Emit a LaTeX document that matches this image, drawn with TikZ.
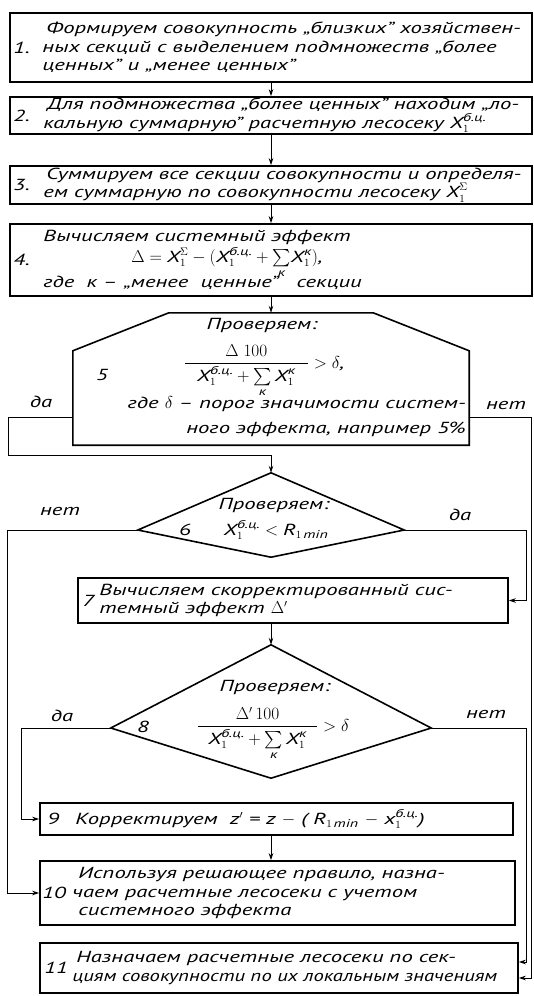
\documentclass[tikz,border=0pt]{standalone}
\usepackage{amsmath}
\usepackage{fontspec}
\setmainfont{PT Sans}[FakeStretch=1.42]
\usetikzlibrary{arrows.meta,positioning}

\newcommand{\Xbc}{\text{X}_1^{\text{б.ц.}}}
\newcommand{\Xk}{\text{X}_1^{\text{к}}}
\newcommand{\XS}{\text{X}_1^{\Sigma}}
\newcommand{\Sk}{\sum\limits_{\text{к}}}

\begin{document}
\begin{tikzpicture}[
  x=1pt,y=-1pt,
  stepbox/.style={draw,line width=1.6pt,inner sep=0pt},
  outline/.style={line width=1.6pt,line join=miter},
  txt/.style={font=\fontsize{16}{18.5}\selectfont\itshape,inner sep=0pt,align=left},
  ans/.style={font=\fontsize{16}{18}\selectfont\itshape,inner sep=0pt},
  flow/.style={line width=0.9pt,-{Stealth[length=7pt,width=4.5pt]}}
]
  \useasboundingbox (0,0) rectangle (534,996);

  % steps 1-4 and the check 5
  \node[stepbox,minimum width=522pt,minimum height=69pt] (b1) at (271,47.5) {};
  \node[stepbox,minimum width=522pt,minimum height=37pt] (b2) at (271,115.5) {};
  \node[stepbox,minimum width=522pt,minimum height=38pt] (b3) at (271,185) {};
  \node[stepbox,minimum width=522pt,minimum height=72pt] (b4) at (271,260) {};
  \node[inner sep=0pt,minimum width=396pt,minimum height=132pt] (c5) at (271,379) {};
  \draw[outline] (c5.south west) -- ([yshift=-38pt]c5.north west) -- ([xshift=96pt]c5.north west)
    -- ([xshift=-96pt]c5.north east) -- ([yshift=-38pt]c5.north east) -- (c5.south east) -- cycle;

  \node[txt,right=4pt of b1.west] (n1) {1.};
  \node[txt,right=33pt of b1.west] (t1) {\hspace*{4pt}Формируем совокупность „близких” хозяйствен-\\
    ных секций с выделением подмножеств „более\\ценных” и „менее ценных”};
  \node[txt,right=4pt of b2.west] (n2) {2.};
  \node[txt,right=34pt of b2.west] (t2) {\hspace*{4pt}Для подмножества „более ценных” находим „ло-\\
    кальную суммарную” расчетную лесосеку $\Xbc$};
  \node[txt,right=4pt of b3.west] (n3) {3.};
  \node[txt,right=34pt of b3.west] (t3) {\hspace*{3pt}Суммируем все секции совокупности и определя-\\
    ем суммарную по совокупности лесосеку $\XS$};
  \node[txt,right=4pt of b4.west] (n4) {4.};
  \node[txt,right=34pt of b4.west] (t4) {Вычисляем системный эффект\\[2pt]
    \hspace*{88pt}$\Delta = \XS - (\Xbc + \smash[b]{\Sk}\Xk)$,\\[7pt]где\ \ к – „менее\ \ ценные”\ \ \ секции};

  \node[txt] (n5) at (102,375) {5};
  \node[txt] (t5a) at (262,325) {Проверяем:};
  \node[txt,anchor=base] (t5b) at (264,368) {$\dfrac{\Delta\;100}{\hspace{12pt}\Xbc+\Sk\Xk\hspace{12pt}} > \delta$,};
  \node[txt,anchor=base east] (t5c) at (466,408) {где $\delta$ – порог значимости систем-};
  \node[txt,anchor=base east] (t5d) at (466,433) {ного эффекта, например 5\%};

  % check 6 and step 7
  \node[inner sep=0pt,minimum width=266pt,minimum height=84pt] (d6) at (271,515) {};
  \draw[outline] (d6.north) -- ([yshift=-15pt]d6.west) -- (d6.south) -- ([yshift=-15pt]d6.east) -- cycle;
  \node[txt] (n6) at (185,530) {6};
  \node[txt] (t6a) at (274,505) {Проверяем:};
  \node[txt] (t6b) at (276,530) {$\Xbc < \text{R}_{1\,\text{min}}$};

  \node[stepbox,minimum width=430pt,minimum height=45pt] (b7) at (293,600.5) {};
  \node[txt,right=5pt of b7.west] (n7) {7};
  \node[txt,right=22pt of b7.west] (t7) {Вычисляем скорректированный сис-\\темный эффект $\Delta'$};

  % check 8
  \node[inner sep=0pt,minimum width=320pt,minimum height=133pt] (d8) at (271,711.5) {};
  \draw[outline] (d8.north) -- ([yshift=-16.5pt]d8.west) -- (d8.south) -- ([yshift=-16.5pt]d8.east) -- cycle;
  \node[txt] (n8) at (143,727) {8};
  \node[txt] (t8a) at (275,687) {Проверяем:};
  \node[txt,anchor=base] (t8b) at (273,731) {$\dfrac{\Delta'\,100}{\hspace{10pt}\Xbc+\Sk\Xk\hspace{10pt}} > \delta$};

  % steps 9-11
  \node[stepbox,minimum width=473pt,minimum height=32pt] (b9) at (276.5,819) {};
  \node[txt,right=8pt of b9.west] (n9) {9};
  \node[txt,right=36pt of b9.west] (t9) {Корректируем \ z$'$ = z $-$ ( R$_{1\,\text{min}}$ $-$ x$_1^{\text{б.ц.}}$)};
  \node[stepbox,minimum width=475pt,minimum height=64pt] (b10) at (277.5,893) {};
  \node[txt,right=3pt of b10.west] (n10) {10};
  \node[txt,right=33pt of b10.west] (t10) {\hspace*{6pt}Используя решающее правило, назна-\\
    чаем расчетные лесосеки с учетом\\\hspace*{6pt}системного эффекта};
  \node[stepbox,minimum width=478pt,minimum height=50pt] (b11) at (279,968) {};
  \node[txt,right=5pt of b11.west] (n11) {11};
  \node[txt,right=33pt of b11.west] (t11) {\hspace*{4pt}Назначаем расчетные лесосеки по сек-\\
    \scalebox{0.91}[1]{циям совокупности по их локальным значениям}};

  % main flow
  \draw[flow] (b1) -- (b2);
  \draw[flow] (b2) -- (b3);
  \draw[flow] (b3) -- (b4);
  \draw[flow] (b4) -- (c5);
  \draw[flow] (b7.south -| d8.north) -- (d8.north);
  \draw[flow] (b9.south -| d8.south) -- (b10.north -| d8.south);

  % branches
  \coordinate (loop5) at (8,455);
  \draw[flow] ([yshift=-38pt]c5.west) -| (loop5) -| (d6.north);
  \draw[flow] ([yshift=-38pt]c5.east) -| ([xshift=13pt,yshift=-10pt]b11.east) -- ([yshift=-10pt]b11.east);
  \draw[flow] ([yshift=-15pt]d6.west) -| ([xshift=-32pt]b10.west) -- (b10.west);
  \draw[flow] ([yshift=-15pt]d6.east) -| ([xshift=18pt]b7.east) -- (b7.east);
  \draw[flow] ([yshift=-16.5pt]d8.west) -| ([xshift=-18pt]b9.west) -- (b9.west);
  \draw[flow] ([yshift=-16.5pt]d8.east) -| ([xshift=8pt,yshift=6pt]b11.east) -- ([yshift=6pt]b11.east);

  \node[ans] (yes5) at (41,402) {да};
  \node[ans] (no5) at (506,405) {нет};
  \node[ans] (no6) at (60,511) {нет};
  \node[ans] (yes6) at (460,515) {да};
  \node[ans] (yes8) at (62,716) {да};
  \node[ans] (no8) at (486,714) {нет};
\end{tikzpicture}
\end{document}
